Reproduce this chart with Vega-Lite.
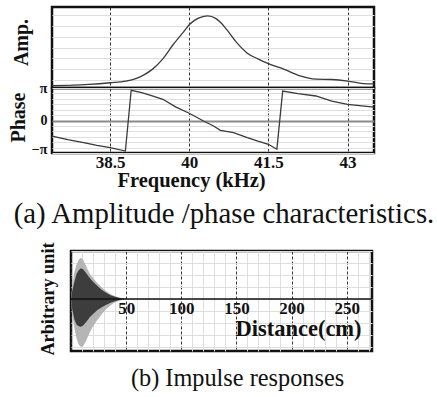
{
  "$schema": "https://vega.github.io/schema/vega-lite/v6.json",
  "padding": {"left": 6, "top": 5, "right": 5, "bottom": 5},
  "background": "white",
  "config": {
    "font": "Liberation Serif",
    "view": {"stroke": "#111", "strokeWidth": 2.5},
    "axis": {"labelFont": "Liberation Serif", "titleFont": "Liberation Serif", "labelFontWeight": "bold", "titleFontWeight": "bold", "labelColor": "#111", "titleColor": "#111", "domain": false, "ticks": false, "tickSize": 0, "labelOverlap": false},
    "title": {"font": "Liberation Serif", "fontWeight": "normal", "color": "#111"}
  },
  "spacing": 10,
  "vconcat": [
    {
      "spacing": 0,
      "bounds": "flush",
      "vconcat": [
        {
          "width": 322, "height": 81,
          "data": {"values": [
            {"f": 37.4, "amp": 0.03}, {"f": 37.8, "amp": 0.035}, {"f": 38.1, "amp": 0.045}, {"f": 38.5, "amp": 0.065},
            {"f": 38.8, "amp": 0.085}, {"f": 39.0, "amp": 0.12}, {"f": 39.15, "amp": 0.165}, {"f": 39.3, "amp": 0.23},
            {"f": 39.5, "amp": 0.36}, {"f": 39.7, "amp": 0.54}, {"f": 39.9, "amp": 0.70}, {"f": 40.0, "amp": 0.78},
            {"f": 40.1, "amp": 0.835}, {"f": 40.2, "amp": 0.87}, {"f": 40.35, "amp": 0.89}, {"f": 40.5, "amp": 0.86},
            {"f": 40.6, "amp": 0.805}, {"f": 40.7, "amp": 0.73}, {"f": 40.9, "amp": 0.56}, {"f": 41.1, "amp": 0.43},
            {"f": 41.3, "amp": 0.36}, {"f": 41.5, "amp": 0.30}, {"f": 41.8, "amp": 0.23}, {"f": 42.1, "amp": 0.15},
            {"f": 42.4, "amp": 0.11}, {"f": 42.7, "amp": 0.105}, {"f": 43.0, "amp": 0.086}, {"f": 43.3, "amp": 0.055},
            {"f": 43.5, "amp": 0.05}
          ]},
          "mark": {"type": "line", "color": "#3a3a3a", "strokeWidth": 1.3, "interpolate": "monotone"},
          "encoding": {
            "x": {"field": "f", "type": "quantitative", "scale": {"domain": [37.4, 43.5], "nice": false, "zero": false},
              "axis": {"values": [38.5, 40, 41.5, 43], "labels": false, "title": null, "grid": true, "gridDash": [3, 2], "gridColor": "#333", "gridWidth": 1, "minExtent": 0, "maxExtent": 0}},
            "y": {"field": "amp", "type": "quantitative", "scale": {"domain": [0, 1], "nice": false},
              "axis": {"values": [0.095, 0.23, 0.365, 0.5, 0.635, 0.77, 0.905], "labels": false, "title": "Amp.", "titleFontSize": 20, "titlePadding": 21, "minExtent": 0, "maxExtent": 0, "titleY": 35, "grid": true, "gridColor": "#dedede"}}
          }
        },
        {
          "width": 322, "height": 65,
          "data": {"values": [
            {"f": 37.4, "ph": -1.5}, {"f": 37.7, "ph": -1.85}, {"f": 38.0, "ph": -2.13}, {"f": 38.25, "ph": -2.4},
            {"f": 38.5, "ph": -2.63}, {"f": 38.79, "ph": -2.95}, {"f": 38.9, "ph": 2.92}, {"f": 39.1, "ph": 2.69},
            {"f": 39.3, "ph": 2.37}, {"f": 39.5, "ph": 2.05}, {"f": 39.75, "ph": 1.30}, {"f": 40.0, "ph": 0.70},
            {"f": 40.27, "ph": -0.05}, {"f": 40.46, "ph": -0.53}, {"f": 40.59, "ph": -0.95}, {"f": 40.84, "ph": -1.18},
            {"f": 41.1, "ph": -1.66}, {"f": 41.3, "ph": -2.0}, {"f": 41.5, "ph": -2.3}, {"f": 41.66, "ph": -2.78},
            {"f": 41.77, "ph": 2.85}, {"f": 42.06, "ph": 2.59}, {"f": 42.4, "ph": 2.37}, {"f": 42.7, "ph": 1.88},
            {"f": 43.0, "ph": 1.56}, {"f": 43.5, "ph": 1.30}
          ]},
          "title": {"text": "(a) Amplitude /phase characteristics.", "orient": "bottom", "fontSize": 28.8, "frame": "group", "anchor": "middle", "dx": 11, "offset": 9},
          "mark": {"type": "line", "color": "#3a3a3a", "strokeWidth": 1.3},
          "encoding": {
            "x": {"field": "f", "type": "quantitative", "scale": {"domain": [37.4, 43.5], "nice": false, "zero": false},
              "axis": {"values": [38.5, 40, 41.5, 43], "format": ".1~f", "title": "Frequency (kHz)", "labelFontSize": 17, "labelPadding": 1, "titleFontSize": 20.5, "titlePadding": 0, "titleX": 139, "grid": true, "gridDash": [3, 2], "gridColor": "#333", "gridWidth": 1}},
            "y": {"field": "ph", "type": "quantitative", "scale": {"domain": [-3.14159, 3.14159], "nice": false, "zero": false},
              "axis": {"values": [-3.14159, -2.61799, -2.0944, -1.5708, -1.0472, -0.5236, 0, 0.5236, 1.0472, 1.5708, 2.0944, 2.61799, 3.14159],
                "labelExpr": "datum.value > 3 ? 'π' : (datum.value < -3 ? '−π' : (abs(datum.value) < 0.01 ? '0' : ''))",
                "labelBaseline": {"condition": {"test": "datum.value < -3", "value": "alphabetic"}, "value": "middle"},
                "labelFontSize": 14, "labelPadding": 5, "minExtent": 22, "maxExtent": 22,
                "title": "Phase", "titleFontSize": 20, "titlePadding": 2, "titleY": 29, "grid": true,
                "gridColor": {"condition": {"test": "abs(datum.value) < 0.01", "value": "#8a8a8a"}, "value": "#dedede"},
                "gridWidth": {"condition": {"test": "abs(datum.value) < 0.01", "value": 2}, "value": 1}}}
          }
        }
      ]
    },
    {
      "spacing": 17,
      "bounds": "flush",
      "hconcat": [
        {"width": 2, "height": 100, "data": {"values": []}, "mark": "point", "view": {"stroke": null}},
        {
          "width": 301, "height": 100,
          "data": {"values": [
            {"d": 0, "lh": 0, "dh": 0, "dl": 0, "ll": 0},
            {"d": 1, "lh": 0.25, "dh": 0.15, "dl": -0.2, "ll": -0.3},
            {"d": 3, "lh": 0.55, "dh": 0.35, "dl": -0.42, "ll": -0.6},
            {"d": 5, "lh": 0.72, "dh": 0.52, "dl": -0.53, "ll": -0.82},
            {"d": 7, "lh": 0.82, "dh": 0.6, "dl": -0.57, "ll": -0.95},
            {"d": 9, "lh": 0.86, "dh": 0.64, "dl": -0.58, "ll": -1.0},
            {"d": 11, "lh": 0.82, "dh": 0.62, "dl": -0.55, "ll": -0.98},
            {"d": 13, "lh": 0.72, "dh": 0.56, "dl": -0.5, "ll": -0.9},
            {"d": 15, "lh": 0.62, "dh": 0.5, "dl": -0.44, "ll": -0.8},
            {"d": 17, "lh": 0.53, "dh": 0.44, "dl": -0.38, "ll": -0.7},
            {"d": 20, "lh": 0.44, "dh": 0.36, "dl": -0.31, "ll": -0.57},
            {"d": 24, "lh": 0.33, "dh": 0.27, "dl": -0.23, "ll": -0.43},
            {"d": 28, "lh": 0.24, "dh": 0.19, "dl": -0.17, "ll": -0.31},
            {"d": 32, "lh": 0.16, "dh": 0.13, "dl": -0.12, "ll": -0.21},
            {"d": 36, "lh": 0.1, "dh": 0.08, "dl": -0.08, "ll": -0.13},
            {"d": 40, "lh": 0.06, "dh": 0.045, "dl": -0.045, "ll": -0.07},
            {"d": 44, "lh": 0.03, "dh": 0.02, "dl": -0.02, "ll": -0.035},
            {"d": 48, "lh": 0.01, "dh": 0.006, "dl": -0.006, "ll": -0.012},
            {"d": 51, "lh": 0, "dh": 0, "dl": 0, "ll": 0}
          ]},
          "title": {"text": "(b) Impulse responses", "orient": "bottom", "fontSize": 24.3, "frame": "group", "anchor": "middle", "dx": 16, "offset": 12},
          "encoding": {
            "x": {"field": "d", "type": "quantitative", "title": "Distance(cm)", "scale": {"domain": [0, 273], "nice": false, "zero": false},
              "axis": {"values": [0, 10, 20, 30, 40, 50, 60, 70, 80, 90, 100, 110, 120, 130, 140, 150, 160, 170, 180, 190, 200, 210, 220, 230, 240, 250, 260, 270],
                "labelExpr": "(datum.value % 50 == 0 && datum.value > 0) ? datum.label : ''",
                "offset": -52, "labelFontSize": 17, "labelPadding": 1, "titleFontSize": 22.5, "titlePadding": 1, "titleX": 227,
                "grid": true,
                "gridColor": {"condition": {"test": "datum.value % 50 == 0", "value": "#333"}, "value": "#dedede"},
                "gridDash": {"condition": {"test": "datum.value % 50 == 0", "value": [3, 2]}, "value": []}}}
          },
          "layer": [
            {
              "mark": {"type": "area", "color": "#b5b5b5"},
              "encoding": {
                "y": {"field": "lh", "type": "quantitative", "title": "Arbitrary unit", "scale": {"domain": [-1.083, 1], "nice": false, "zero": false},
                  "axis": {"values": [-1, -0.75, -0.5, -0.25, 0, 0.25, 0.5, 0.75, 1], "labels": false, "titleFontSize": 18.3, "titlePadding": 14, "titleY": 47.5, "minExtent": 0, "maxExtent": 0, "grid": true, "gridColor": "#dedede"}},
                "y2": {"field": "ll"}
              }
            },
            {
              "mark": {"type": "area", "color": "#3d3d3d"},
              "encoding": {
                "y": {"field": "dh", "type": "quantitative", "title": "Arbitrary unit", "scale": {"domain": [-1.083, 1], "nice": false, "zero": false},
                  "axis": {"values": [-1, -0.75, -0.5, -0.25, 0, 0.25, 0.5, 0.75, 1], "labels": false, "titleFontSize": 18.3, "titlePadding": 14, "titleY": 47.5, "minExtent": 0, "maxExtent": 0, "grid": true, "gridColor": "#dedede"}},
                "y2": {"field": "dl"}
              }
            },
            {
              "data": {"values": [{"z": 0}]},
              "mark": {"type": "rule", "color": "#111", "strokeWidth": 1.5},
              "encoding": {
                "x": null,
                "y": {"field": "z", "type": "quantitative", "title": "Arbitrary unit", "scale": {"domain": [-1.083, 1], "nice": false, "zero": false},
                  "axis": {"values": [-1, -0.75, -0.5, -0.25, 0, 0.25, 0.5, 0.75, 1], "labels": false, "titleFontSize": 18.3, "titlePadding": 14, "titleY": 47.5, "minExtent": 0, "maxExtent": 0, "grid": true, "gridColor": "#dedede"}}
              }
            }
          ]
        }
      ]
    }
  ]
}
